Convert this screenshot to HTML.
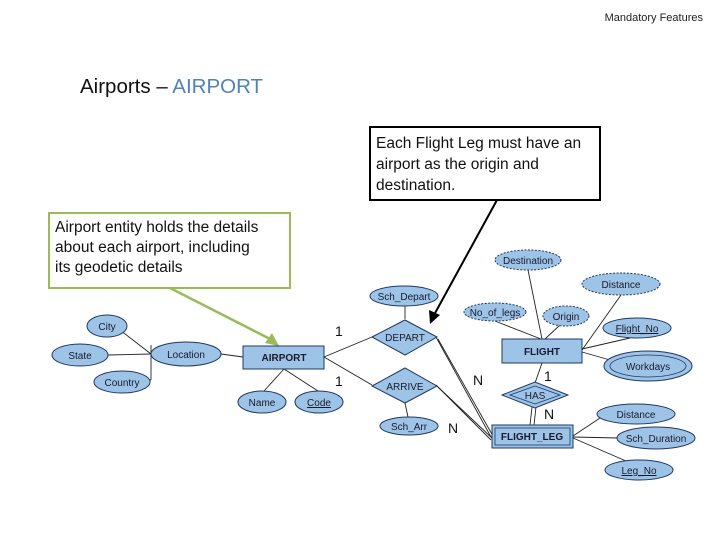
<!DOCTYPE html>
<html><head><meta charset="utf-8"><style>
html,body{margin:0;padding:0;background:#fff;}
svg{display:block;}
.e{fill:#9dc3e6;stroke:#1f3864;stroke-width:1;}
.t{font-family:"Liberation Sans",Arial,sans-serif;font-size:10px;fill:#1a1a2e;text-anchor:middle;}
.c{font-family:"Liberation Sans",Arial,sans-serif;font-size:15.5px;fill:#111;}
.l{stroke:#222;stroke-width:0.9;fill:none;}
</style></head><body>
<svg width="728" height="546" viewBox="0 0 728 546" xmlns="http://www.w3.org/2000/svg">
<text x="703" y="21" text-anchor="end" font-family="Liberation Sans, sans-serif" font-size="11" fill="#222">Mandatory Features</text>
<text x="80" y="93" font-family="Liberation Sans, sans-serif" font-size="20.5" fill="#111">Airports – <tspan fill="#4f81bd">AIRPORT</tspan></text>

<rect x="370" y="127" width="230" height="73" fill="#fff" stroke="#000" stroke-width="2"/>
<text class="c" x="376" y="148">Each Flight Leg must have an</text>
<text class="c" x="376" y="169">airport as the origin and</text>
<text class="c" x="376" y="190">destination.</text>
<rect x="49" y="213" width="241" height="75" fill="#fff" stroke="#9bbb59" stroke-width="2"/>
<text class="c" x="55" y="232">Airport entity holds the details</text>
<text class="c" x="55" y="252">about each airport, including</text>
<text class="c" x="55" y="272">its geodetic details</text>

<line x1="497" y1="200" x2="434" y2="315" stroke="#000" stroke-width="2"/>
<polygon points="430,324 429,310 440,315" fill="#000"/>
<line x1="170" y1="288" x2="272" y2="340" stroke="#9bbb59" stroke-width="2.5"/>
<polygon points="279,346 265,343 272,333" fill="#9bbb59"/>

<g class="l">
<line x1="120" y1="330" x2="151" y2="354"/>
<line x1="108" y1="355" x2="151" y2="354"/>
<line x1="151" y1="345" x2="151" y2="380"/>
<line x1="150" y1="380" x2="151" y2="380"/>
<line x1="221" y1="354" x2="243" y2="357"/>
<line x1="284" y1="369" x2="264" y2="391"/>
<line x1="284" y1="369" x2="318" y2="391"/>
<line x1="324" y1="357" x2="372" y2="337"/>
<line x1="324" y1="357" x2="372" y2="385"/>
<line x1="405" y1="305" x2="405" y2="319"/>
<line x1="405" y1="403" x2="408" y2="417"/>
<line x1="436" y1="337" x2="491" y2="437"/>
<line x1="438" y1="339" x2="493" y2="436"/>
<line x1="436" y1="385" x2="491" y2="440"/>
<line x1="438" y1="387" x2="493" y2="439"/>
<line x1="528" y1="270" x2="542" y2="339"/>
<line x1="495" y1="321" x2="541" y2="339"/>
<line x1="560" y1="325" x2="545" y2="339"/>
<line x1="621" y1="295" x2="582" y2="350"/>
<line x1="582" y1="349" x2="630" y2="338"/>
<line x1="582" y1="352" x2="610" y2="360"/>
<line x1="542" y1="363" x2="535" y2="383"/>
<line x1="532" y1="407" x2="530" y2="425"/>
<line x1="536" y1="407" x2="534" y2="425"/>
<line x1="573" y1="436" x2="600" y2="418"/>
<line x1="573" y1="437" x2="618" y2="438"/>
<line x1="573" y1="438" x2="626" y2="461"/>
</g>

<rect x="243" y="346" width="81" height="23" class="e"/>
<text class="t" x="284" y="361" font-weight="bold">AIRPORT</text>
<rect x="502" y="339" width="80" height="24" class="e"/>
<text class="t" x="542" y="355" font-weight="bold">FLIGHT</text>
<rect x="492" y="425" width="81" height="23" class="e"/>
<rect x="495" y="428" width="75" height="17" fill="none" stroke="#1f3864" stroke-width="0.8"/>
<text class="t" x="532" y="440" font-weight="bold">FLIGHT_LEG</text>

<polygon points="372,337 405,320 437,337 405,355" class="e"/>
<text class="t" x="405" y="341">DEPART</text>
<polygon points="372,386 405,368 437,386 405,403" class="e"/>
<text class="t" x="405" y="390">ARRIVE</text>
<polygon points="502,395 535,382 568,395 535,408" class="e"/>
<polygon points="510,395 535,386 560,395 535,404" fill="none" stroke="#1f3864" stroke-width="0.8"/>
<text class="t" x="535" y="399">HAS</text>

<ellipse cx="107" cy="326" rx="20" ry="11" class="e"/><text class="t" x="107" y="330">City</text>
<ellipse cx="80" cy="355" rx="28" ry="11" class="e"/><text class="t" x="80" y="359">State</text>
<ellipse cx="122" cy="382" rx="28" ry="11" class="e"/><text class="t" x="122" y="386">Country</text>
<ellipse cx="186" cy="354" rx="35" ry="12" class="e"/><text class="t" x="186" y="358">Location</text>
<ellipse cx="262" cy="402" rx="24" ry="11" class="e"/><text class="t" x="262" y="406">Name</text>
<ellipse cx="319" cy="402" rx="24" ry="11" class="e"/><text class="t" x="319" y="406" text-decoration="underline">Code</text>
<ellipse cx="404" cy="296" rx="34" ry="10" class="e"/><text class="t" x="404" y="300">Sch_Depart</text>
<ellipse cx="409" cy="426" rx="29" ry="9" class="e"/><text class="t" x="409" y="430">Sch_Arr</text>
<ellipse cx="528" cy="260" rx="33" ry="10" class="e" stroke-dasharray="2,1.5"/><text class="t" x="528" y="264">Destination</text>
<ellipse cx="621" cy="284" rx="39" ry="11" class="e" stroke-dasharray="2,1.5"/><text class="t" x="621" y="288">Distance</text>
<ellipse cx="495" cy="312" rx="31" ry="9" class="e" stroke-dasharray="2,1.5"/><text class="t" x="495" y="316">No_of_legs</text>
<ellipse cx="566" cy="316" rx="23" ry="10" class="e" stroke-dasharray="2,1.5"/><text class="t" x="566" y="320">Origin</text>
<ellipse cx="637" cy="328" rx="34" ry="10" class="e"/><text class="t" x="637" y="332" text-decoration="underline">Flight_No</text>
<ellipse cx="648" cy="366" rx="44" ry="15" class="e"/>
<ellipse cx="648" cy="366" rx="38" ry="11" fill="none" stroke="#1f3864" stroke-width="0.8"/>
<text class="t" x="648" y="370">Workdays</text>
<ellipse cx="636" cy="414" rx="39" ry="10" class="e"/><text class="t" x="636" y="418">Distance</text>
<ellipse cx="656" cy="438" rx="39" ry="11" class="e"/><text class="t" x="656" y="442">Sch_Duration</text>
<ellipse cx="639" cy="470" rx="34" ry="10" class="e"/><text class="t" x="639" y="474" text-decoration="underline">Leg_No</text>

<g font-family="Liberation Sans, sans-serif" font-size="14" fill="#111">
<text x="335" y="336">1</text>
<text x="335" y="386">1</text>
<text x="473" y="385">N</text>
<text x="448" y="433">N</text>
<text x="544" y="381">1</text>
<text x="544" y="419">N</text>
</g>
</svg>
</body></html>
